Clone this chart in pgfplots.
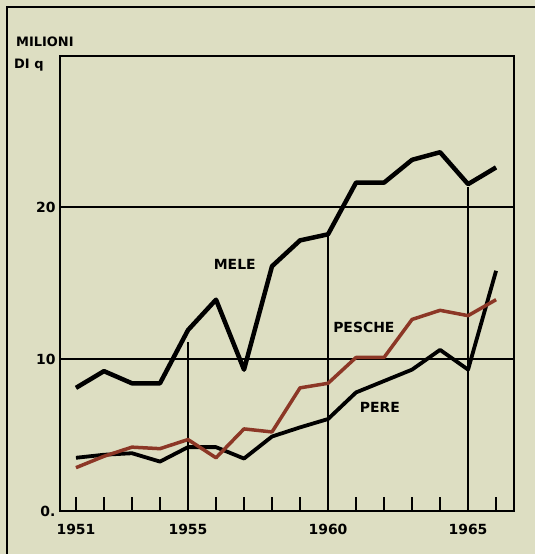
\documentclass[border=0pt]{standalone}
\usepackage{fontspec}
\setmainfont{DejaVu Sans}
\usepackage{pgfplots}
\pgfplotsset{compat=1.18}
\definecolor{paper}{RGB}{221,222,194}
\definecolor{pesche}{RGB}{140,55,38}

% production, milioni di quintali, 1951-1966
\pgfplotstableread{
anno mele pesche pere
1951 8.1  2.85 3.5
1952 9.2  3.6  3.7
1953 8.4  4.2  3.8
1954 8.4  4.1  3.25
1955 11.9 4.7  4.2
1956 13.9 3.5  4.2
1957 9.3  5.4  3.45
1958 16.1 5.2  4.9
1959 17.8 8.1  5.5
1960 18.2 8.4  6.05
1961 21.6 10.1 7.8
1962 21.6 10.1 8.55
1963 23.1 12.6 9.3
1964 23.6 13.2 10.6
1965 21.5 12.85 9.3
1966 22.6 13.9 15.8
}\dati

\begin{document}
\begin{tikzpicture}
\fill[paper] (0,0) rectangle (535bp,554bp);
% outer frame of the page (left and top edges)
\draw[line width=1.5bp] (7bp,0) -- (7bp,547bp) -- (535bp,547bp);

\begin{axis}[
  scale only axis,
  width=454bp, height=455bp,
  at={(60bp,43bp)}, anchor=south west,
  xmin=1950.43, xmax=1966.64,
  ymin=0, ymax=29.93,
  axis line style={line width=1.5bp},
  xtick={1951,...,1966},
  xticklabels={1951,,,,1955,,,,,1960,,,,,1965,},
  xtick pos=bottom, tick align=inside,
  major tick length=14bp,
  xtick style={line width=1.5bp, black},
  ytick={0,10,20},
  yticklabels={0.,10,20},
  ytick style={draw=none},
  ymajorgrids,
  grid style={line width=1.2bp, black},
  /pgf/number format/assume math mode=true,
  ticklabel style={font=\bfseries\fontsize{14}{16}\selectfont},
  xticklabel style={yshift=-10bp},
  yticklabel style={xshift=-1bp},
  clip=false,
]
% vertical guide lines up to the MELE curve
\addplot[line width=1.2bp, black] coordinates {(1955,0) (1955,11.1)};
\addplot[line width=1.2bp, black] coordinates {(1960,0) (1960,18.2)};
\addplot[line width=1.2bp, black] coordinates {(1965,0) (1965,21.3)};

\addplot[line width=3.8bp, black, line join=round] table[x=anno, y=pere] {\dati};
\addplot[line width=3.5bp, pesche, line join=round] table[x=anno, y=pesche] {\dati};
\addplot[line width=4.5bp, black, line join=round] table[x=anno, y=mele] {\dati};

\node[font=\bfseries\fontsize{14}{16}\selectfont] at (axis cs:1956.67,16.2) {MELE};
\node[font=\bfseries\fontsize{14}{16}\selectfont] at (axis cs:1961.28,12.1) {PESCHE};
\node[font=\bfseries\fontsize{14}{16}\selectfont] at (axis cs:1961.85,6.8) {PERE};
\end{axis}

\node[anchor=west, font=\bfseries\fontsize{13}{15}\selectfont, inner sep=0pt] at (16bp,512bp) {MILIONI};
\node[anchor=west, font=\bfseries\fontsize{13}{15}\selectfont, inner sep=0pt] at (14bp,489bp) {DI q};

\pgfresetboundingbox
\path (0,0) rectangle (535bp,554bp);
\end{tikzpicture}
\end{document}
